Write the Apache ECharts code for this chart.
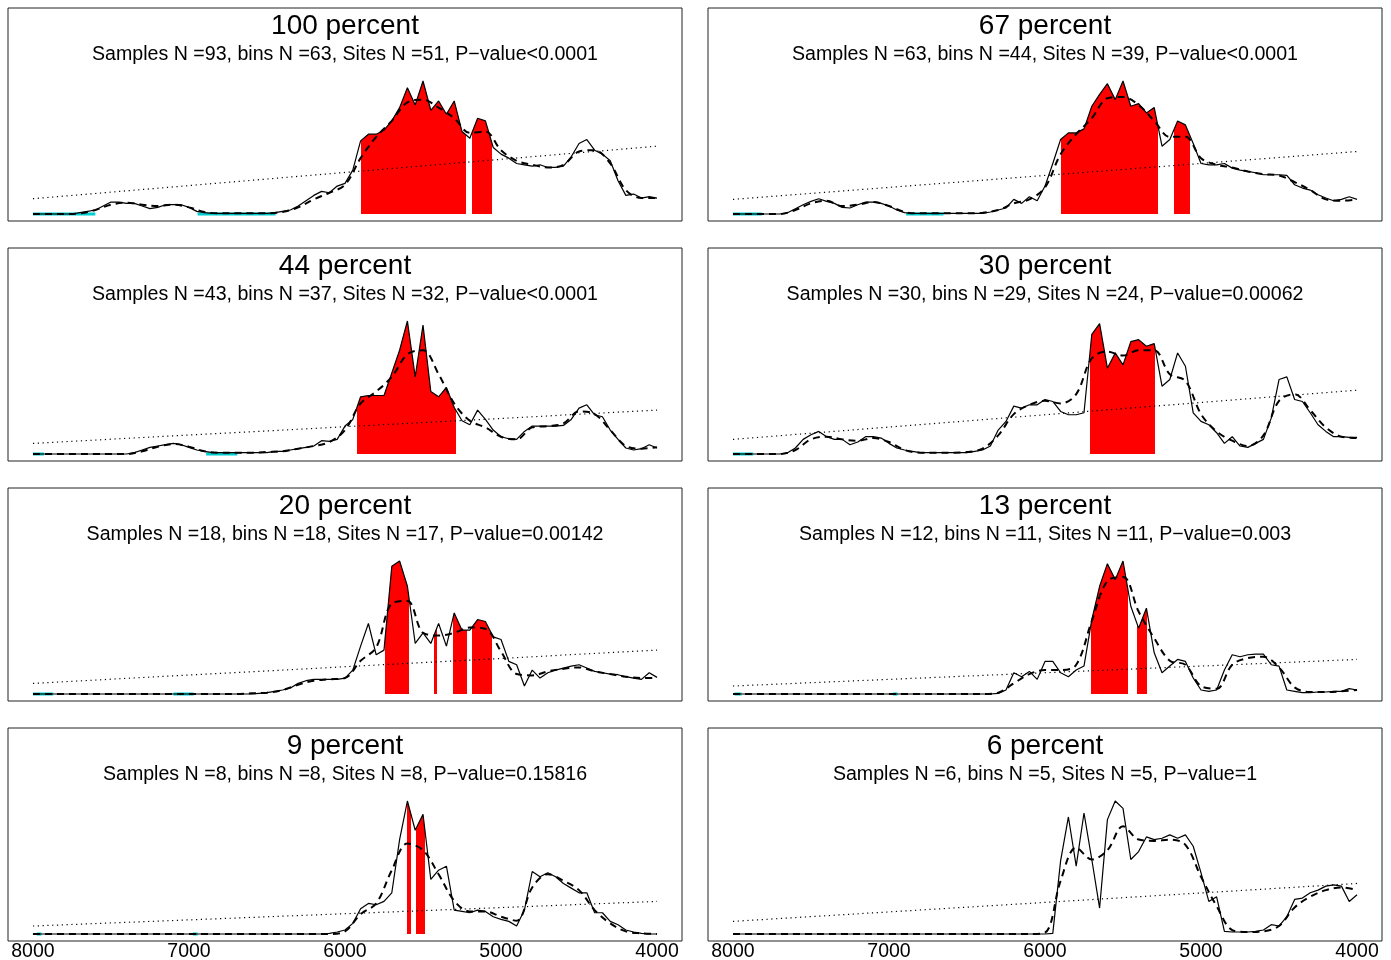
<!DOCTYPE html>
<html><head><meta charset="utf-8">
<script src="https://cdn.jsdelivr.net/npm/echarts@6/dist/echarts.min.js"></script>
<style>html,body{margin:0;padding:0;background:#fff}#c{width:1391px;height:960px}</style>
</head><body><div id="c"></div>
<script>
// ---------- data ----------
const YEARS = [8000,7950,7900,7850,7800,7750,7700,7650,7600,7550,
  7500,7450,7400,7350,7300,7250,7200,7150,7100,7050,
  7000,6950,6900,6850,6800,6750,6700,6650,6600,6550,
  6500,6450,6400,6350,6300,6250,6200,6150,6100,6050,
  6000,5950,5900,5850,5800,5750,5700,5650,5600,5550,
  5500,5450,5400,5350,5300,5250,5200,5150,5100,5050,
  5000,4950,4900,4850,4800,4750,4700,4650,4600,4550,
  4500,4450,4400,4350,4300,4250,4200,4150,4100,4050,
  4000];
const YEARS_SMOOTH = [8000,7900,7800,7700,7600,7500,7400,7300,7200,7100,
  7000,6900,6800,6700,6600,6500,6400,6300,6200,6100,
  6000,5900,5800,5700,5600,5500,5400,5300,5200,5100,
  5000,4900,4800,4700,4600,4500,4400,4300,4200,4100,4000];
const TREND_YEARS = [8000, 4000];
const X_TICKS = [8000, 7000, 6000, 5000, 4000];

const TITLES = ['100 percent','67 percent','44 percent','30 percent','20 percent','13 percent','9 percent','6 percent'];
const SUBTITLES = [
  'Samples N =93, bins N =63, Sites N =51, P\u2212value<0.0001',
  'Samples N =63, bins N =44, Sites N =39, P\u2212value<0.0001',
  'Samples N =43, bins N =37, Sites N =32, P\u2212value<0.0001',
  'Samples N =30, bins N =29, Sites N =24, P\u2212value=0.00062',
  'Samples N =18, bins N =18, Sites N =17, P\u2212value=0.00142',
  'Samples N =12, bins N =11, Sites N =11, P\u2212value=0.003',
  'Samples N =8, bins N =8, Sites N =8, P\u2212value=0.15816',
  'Samples N =6, bins N =5, Sites N =5, P\u2212value=1'
];

// raw (solid) curves, 8000 -> 4000 every 50 years
const RAW_100 = [0,0,0,0,0,0,1,2,3,6, 9,9,8,8,6,4,5,7,7,7, 5,2,1,0.5,0.5,0.5,0.5,0.5,0.5,0.5,
  0.5,1,2,3,6,10,14,17,16,21, 23,33,55,60,60,63,70,80,95,82, 100,78,85,75,85,62,57,72,70,50,
  45,42,38,37,36,37,35,35,36,43, 53,56,48,45,40,25,14,15,12,13, 12];
const RAW_67 = [0,0,0,0,0,0,0,1,4,7, 9.5,11.5,9.5,8,5,4.5,7,9,9,8, 6,3,1,0.5,0.5,0.5,0.5,0.5,0.5,0.5,
  0.5,0.5,0.5,1.5,3,4.5,11,8,13,10, 21,38,56,61,61,64,81,90,98,86, 100,81,83,76,80,51,56,70,67,53,
  38,37,37,38,34.5,33,32,31,29.5,29.5, 29.5,29,22,19.5,18,14.5,12,10,11,13, 11];
const RAW_44 = [0,0,0,0,0,0,0,0,0,0, 0,0,0,1,3,5,6,7,8,7, 5,3,2,1,1,1,1,1,1,1,
  1,2,2,3,4,5,6,10,9.5,11, 21,26,43,44,44,44,61,78,100,58, 97,47,43,50,35,25,22,33,26,18,
  13,11.5,11,17,21,21,21,21,21.5,26, 34.5,37,29.5,28,18,11,4.5,3,4,7, 4.5];
const RAW_30 = [0,0,0,0,0,0,0,1,4.5,11, 14.5,17,13,11,11,7,9,13,13,12, 8,4.5,3,2,1,1,1,1,1,1,
  1,2,3,6,18,24.5,36,34.5,37,37, 41,39.5,32,29.5,29.5,31,90,98,64.5,76, 67,84.5,86,81,83,51,56,76,66,31,
  24.5,22,16,8,13,6,5,8,11,27, 56,58,41,39.5,31,22,17,13,13,12.5, 12.5];
const RAW_20 = [0,0,0,0,0,0,0,0,0,0, 0,0,0,0,0,0,0,0,0,0, 0,0,0,0,0,0,0,0,0,0.5,
  1,2,3,4.5,8,10,11,11,11,11, 12,18,36,53,29.5,33,96,100,81,38, 46,38,53,36,61,48,48,56,54.5,43,
  41,24.5,22,6,18,12,16,18,19.5,21, 22,19.5,17,16,15,14.5,13,12,11,16, 12.5];
const RAW_13 = [0,0,0,0,0,0,0,0,0,0, 0,0,0,0,0,0,0,0,0,0, 0,0,0,0,0,0,0,0,0,0,
  0,0,0,0,0.5,3,16,13,17,11, 24.5,24.5,16,13,18,21,56,81,98,86, 100,66,49.5,64.5,31,16,21,26,24.5,12,
  3,2,3,18,29.5,28,29.5,30,30,22, 21,3,2,1,1,1.5,1.5,2,2,4, 3];
const RAW_9 = [0,0,0,0,0,0,0,0,0,0, 0,0,0,0,0,0,0,0,0,0, 0,0,0,0,0,0,0,0,0,0,
  0,0,0,0,0,0,0,0,0.5,1.5, 3,8,19,23,22,24.5,31,71,100,78, 90,41,48,51,18,17,16,18,17,13,
  11,9.5,6,18,47,43,46,43,38,34.5, 31,31,16,16,9.5,7,3,1.5,0.5,0, 0];
const RAW_6 = [0,0,0,0,0,0,0,0,0,0, 0,0,0,0,0,0,0,0,0,0, 0,0,0,0,0,0,0,0,0,0,
  0,0,0,0,0,0,0,0,0,0, 0,0.5,55,88,51,91,56,19.5,86,100, 94.5,56,62,73,71,72,74.5,72,74.5,66,
  46,24.5,28,2,1.5,1.5,1.5,2,3,7, 6,13,26,27,31,33,36,37,36,24.5, 29.5];

// smoothed (dashed) curves, 8000 -> 4000 every 100 years
const SMOOTH_100 = [0,0,0,0.5,3,7,8.5,7,6,7, 5,1.5,0.5,0.5,0.5,0.5,1.5,5,11,16,
  22,42,58,70,84,86,80,72,61,62, 48,40,37,35,37,47,48,38,18,12, 12];
const SMOOTH_67 = [0,0,0,0,3,8,10,6,7,9, 6,1.5,0.5,0.5,0.5,0.5,1,3,8,11,
  20,45,60,72,87,88,82,70,58,58, 42,37,35,32,30,29,24,18,11,10, 11];
const SMOOTH_44 = [0,0,0,0,0,0,0,2,5.5,7.5, 5.5,2,1,1,1,1.5,2,4,6,9,
  18,38,47,58,75,78,60,38,25,20, 13,11,20,21,23,32,30,18,6,4, 5];
const SMOOTH_30 = [0,0,0,0,3,11,13,11,10,12, 9,3,1,1,1,1.5,4,14,30,37,
  40,38,45,72,77,74,78,78,60,55, 30,17,10,6,14,40,45,33,20,13, 12];
const SMOOTH_20 = [0,0,0,0,0,0,0,0,0,0, 0,0,0,0,0.5,1,3,7,10,11,
  12,25,35,68,70,46,44,46,50,49, 32,15,14,17,19,20,17,15,13,12, 12];
const SMOOTH_13 = [0,0,0,0,0,0,0,0,0,0, 0,0,0,0,0,0,0,1,8,15,
  18,18,22,55,85,88,62,42,25,22, 6,4,22,27,28,20,5,1.5,1.5,2, 3];
const SMOOTH_9 = [0,0,0,0,0,0,0,0,0,0, 0,0,0,0,0,0,0,0,0,0,
  2,15,23,48,68,63,45,25,17,17, 13,10,35,45,40,33,18,8,2,0.5, 0];
const SMOOTH_6 = [0,0,0,0,0,0,0,0,0,0, 0,0,0,0,0,0,0,0,0,0,
  1,40,65,56,63,81,71,70,71,67, 43,21,3,1.5,2,6,20,28,33,35, 33];

// linear trend (dotted) values at 8000 and 4000
const TREND_100 = [11.5, 51];
const TREND_67 = [11, 47];
const TREND_44 = [8, 33];
const TREND_30 = [11, 48];
const TREND_20 = [8, 33];
const TREND_13 = [6, 26];
const TREND_9 = [6, 24.5];
const TREND_6 = [9.5, 38];

// significantly high (red) year ranges
const SIG_100 = [[5900,5225],[5185,5060]];
const SIG_67 = [[5900,5275],[5175,5070]];
const SIG_44 = [[5925,5290]];
const SIG_30 = [[5710,5295]];
const SIG_20 = [[5745,5590],[5430,5410],[5310,5215],[5188,5058]];
const SIG_13 = [[5705,5465],[5412,5345]];
const SIG_9 = [[5603,5578],[5544,5488]];
const SIG_6 = [];

// significantly low (cyan) year ranges
const LOW_100 = [[8000,7600],[6945,6445]];
const LOW_67 = [[8000,7815],[6890,6650]];
const LOW_44 = [[8000,7930],[6890,6690]];
const LOW_30 = [[8000,7870]];
const LOW_20 = [[8000,7870],[7100,6970]];
const LOW_13 = [[7990,7945],[6975,6945]];
const LOW_9 = [[7975,7945],[6975,6945]];
const LOW_6 = [];

// ---------- build ----------
const PANELS = [
  {raw: RAW_100, sm: SMOOTH_100, tr: TREND_100, sig: SIG_100, low: LOW_100},
  {raw: RAW_67, sm: SMOOTH_67, tr: TREND_67, sig: SIG_67, low: LOW_67},
  {raw: RAW_44, sm: SMOOTH_44, tr: TREND_44, sig: SIG_44, low: LOW_44},
  {raw: RAW_30, sm: SMOOTH_30, tr: TREND_30, sig: SIG_30, low: LOW_30},
  {raw: RAW_20, sm: SMOOTH_20, tr: TREND_20, sig: SIG_20, low: LOW_20},
  {raw: RAW_13, sm: SMOOTH_13, tr: TREND_13, sig: SIG_13, low: LOW_13},
  {raw: RAW_9, sm: SMOOTH_9, tr: TREND_9, sig: SIG_9, low: LOW_9},
  {raw: RAW_6, sm: SMOOTH_6, tr: TREND_6, sig: SIG_6, low: LOW_6}
];

const FONT = "'Liberation Sans', Arial, Helvetica, sans-serif";
const COL_LEFT = [8, 708];
const ROW_TOP = [8, 248, 488, 728];
const BOX_W = 674, BOX_H = 213;

const grids = [], xAxes = [], yAxes = [], series = [], visualMaps = [], graphics = [];

PANELS.forEach((p, i) => {
  const r = Math.floor(i / 2), c = i % 2;
  const left = COL_LEFT[c], top = ROW_TOP[r];
  grids.push({left: left, top: top, width: BOX_W, height: BOX_H, show: true,
    borderColor: '#222', borderWidth: 1, backgroundColor: 'transparent',
    containLabel: false, outerBoundsMode: 'none'});
  xAxes.push({type: 'value', gridIndex: i, min: 3840, max: 8160, inverse: true,
    axisLine: {show: false}, axisTick: {show: false}, splitLine: {show: false},
    axisLabel: {show: r === 3, customValues: X_TICKS, color: '#000', fontSize: 19.5,
      fontFamily: FONT, margin: 1, formatter: v => String(v)}});
  yAxes.push({type: 'value', gridIndex: i, min: -5.26, max: 154.9, show: false,
    splitLine: {show: false}});

  const rawPairs = YEARS.map((y, k) => [y, p.raw[k]]);

  if (p.sig.length) {
    visualMaps.push({type: 'piecewise', show: false, dimension: 0, seriesIndex: series.length,
      pieces: p.sig.map(s => ({gte: Math.min(s[0], s[1]), lte: Math.max(s[0], s[1]), color: '#ff0000'}))
        .sort((a, b) => a.gte - b.gte),
      outOfRange: {color: 'rgba(255,255,255,0)'}});
    series.push({type: 'line', xAxisIndex: i, yAxisIndex: i, data: rawPairs, showSymbol: false,
      lineStyle: {width: 0, opacity: 0}, areaStyle: {opacity: 1, origin: 0}, silent: true, z: 1});
  }

  if (p.low.length) {
    const lowData = [];
    p.low.forEach(s => { lowData.push([s[0], 0], [s[1], 0], [s[1], null]); });
    series.push({type: 'line', xAxisIndex: i, yAxisIndex: i, data: lowData, showSymbol: false,
      connectNulls: false, lineStyle: {color: '#00CED1', width: 3}, silent: true, z: 2});
  }

  series.push({type: 'line', xAxisIndex: i, yAxisIndex: i,
    data: TREND_YEARS.map((y, k) => [y, p.tr[k]]), showSymbol: false,
    lineStyle: {color: '#000', width: 1.2, type: [1.2, 3.6]}, silent: true, z: 3});

  series.push({type: 'line', xAxisIndex: i, yAxisIndex: i, data: rawPairs, showSymbol: false,
    lineStyle: {color: '#000', width: 1.2}, silent: true, z: 4});

  series.push({type: 'line', xAxisIndex: i, yAxisIndex: i,
    data: YEARS_SMOOTH.map((y, k) => [y, p.sm[k]]), showSymbol: false, smooth: 0.35,
    lineStyle: {color: '#000', width: 2, type: [7, 5]}, silent: true, z: 5});

  const cx = left + BOX_W / 2;
  graphics.push({type: 'text', x: cx, y: top + 18,
    style: {text: TITLES[i], font: '28px ' + FONT, fill: '#000', textAlign: 'center', textVerticalAlign: 'middle'}});
  graphics.push({type: 'text', x: cx, y: top + 47,
    style: {text: SUBTITLES[i], font: '19.6px ' + FONT, fill: '#000', textAlign: 'center', textVerticalAlign: 'middle'}});
});

const chart = echarts.init(document.getElementById('c'), null, {renderer: 'canvas'});
chart.setOption({
  animation: false,
  backgroundColor: '#fff',
  grid: grids, xAxis: xAxes, yAxis: yAxes,
  visualMap: visualMaps,
  series: series,
  graphic: graphics
});
</script></body></html>
